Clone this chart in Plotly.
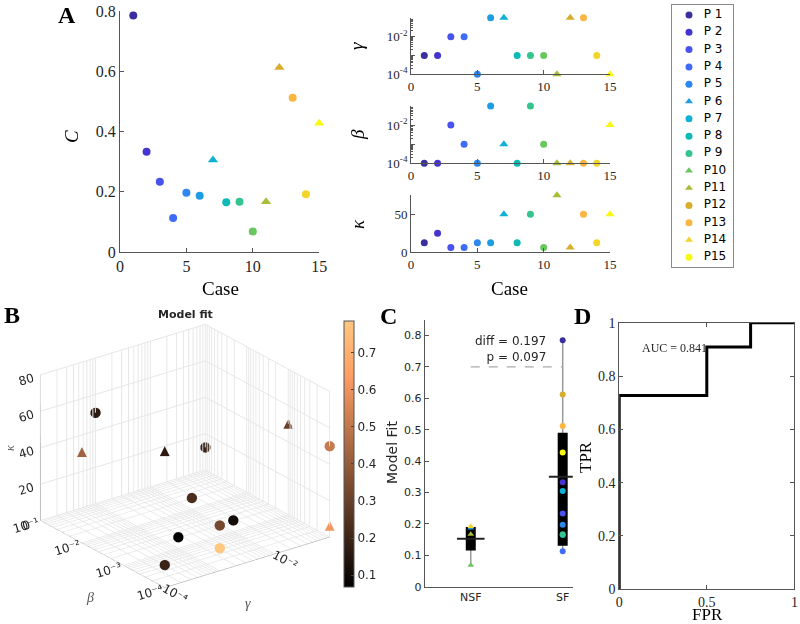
import numpy as np
import plotly.graph_objects as go

# ---------------- data ----------------
cases = list(range(1, 16))
case_names = ['P 1', 'P 2', 'P 3', 'P 4', 'P 5', 'P 6', 'P 7', 'P 8', 'P 9',
              'P10', 'P11', 'P12', 'P13', 'P14', 'P15']
case_colors = ['#3b2f9f', '#4535cf', '#4852ec', '#3f6cf6', '#2d87ef', '#1f9de2',
               '#0fb2d6', '#0dbab6', '#35c38f', '#6ac75f', '#a6be39', '#d7ae2c',
               '#fbb540', '#f2d42a', '#f8f811']
model_fit = [0.785, 0.333, 0.233, 0.113, 0.197, 0.187, 0.305, 0.165, 0.167,
             0.068, 0.167, 0.612, 0.512, 0.192, 0.427]
gamma_vals = [1e-3, 1e-3, 1e-2, 1e-2, 1e-4, 1e-1, 1e-1, 1e-3, 1e-3, 1e-3,
              1e-4, 1e-1, 1e-1, 1e-3, 1e-4]
beta_vals = [1e-4, 1e-4, 1e-2, 1e-3, 1e-4, 1e-1, 1e-3, 1e-4, 1e-1, 1e-3,
             1e-4, 1e-4, 1e-4, 1e-4, 1e-2]
kappa_vals = [12.5, 25, 6.25, 6.25, 12.5, 12.5, 50, 12.5, 50, 6.25,
              75, 6.25, 50, 12.5, 50]
triangle_cases = [7, 11, 12, 15]      # marker shape in panels A and B
nsf_cases = [6, 10, 11, 14]           # legend triangles / NSF group in C

box_groups = ['NSF', 'SF']
box_pos = [1, 2]
box_q1 = [0.115, 0.13]
box_q3 = [0.19, 0.49]
box_median = [0.153, 0.35]
box_wlo = [0.068, 0.113]
box_whi = [0.195, 0.785]
diff_text = 'diff = 0.197<br>p = 0.097'
sig_line_y = 0.70

roc_fpr = [0, 0, 0.5, 0.5, 0.75, 0.75, 1]
roc_tpr = [0, 0.727, 0.727, 0.909, 0.909, 1, 1]
auc_text = 'AUC = 0.841'

SERIF = 'Liberation Serif'
SANS = 'DejaVu Sans'
AX = '#555555'
TXT = '#262626'

fig = go.Figure()

sym_plot = ['triangle-up' if c in triangle_cases else 'circle' for c in cases]
size_plot = [9 if c in triangle_cases else 8 for c in cases]

# ---------------- Panel A left ----------------
fig.add_trace(go.Scatter(x=cases, y=model_fit, mode='markers', xaxis='x', yaxis='y',
                         marker=dict(color=case_colors, symbol=sym_plot, size=size_plot,
                                     opacity=1, line=dict(width=0)),
                         cliponaxis=False, showlegend=False))

# ---------------- Panel A right ----------------
for vals, ax in [(gamma_vals, '2'), (beta_vals, '3'), (kappa_vals, '4')]:
    fig.add_trace(go.Scatter(x=cases, y=vals, mode='markers', xaxis='x' + ax, yaxis='y' + ax,
                             marker=dict(color=case_colors, symbol=sym_plot, opacity=1,
                                         size=[s - 1 for s in size_plot], line=dict(width=0)),
                             cliponaxis=False, showlegend=False))

# ---------------- Legend (manual) ----------------
leg_sym = ['triangle-up' if c in nsf_cases else 'circle' for c in cases]
fig.add_trace(go.Scatter(x=[0.276] * 15, y=list(range(15)), mode='markers', xaxis='x7', yaxis='y7',
                         marker=dict(color=case_colors, symbol=leg_sym, size=7, line=dict(width=0)),
                         showlegend=False))
fig.add_trace(go.Scatter(x=[0.52] * 15, y=list(range(15)), mode='text', text=case_names,
                         textposition='middle right', xaxis='x7', yaxis='y7',
                         textfont=dict(family=SANS, size=12, color='black'), showlegend=False))

# ---------------- Panel B (3D) ----------------
cmin, cmax = min(model_fit), max(model_fit)
copper = [[0, 'rgb(0,0,0)'], [0.8, 'rgb(255,159,101)'], [1, 'rgb(255,199,127)']]


def copper_rgb(v):
    t = (v - cmin) / (cmax - cmin)
    return 'rgb(%d,%d,%d)' % (min(1, 1.25 * t) * 255, 0.7812 * t * 255, 0.4975 * t * 255)


circ_idx = sorted([i for i, c in enumerate(cases) if c not in triangle_cases], key=lambda i: model_fit[i])
tri_idx = [i for i, c in enumerate(cases) if c in triangle_cases]
fig.add_trace(go.Scatter3d(
    x=[gamma_vals[i] for i in circ_idx], y=[beta_vals[i] for i in circ_idx],
    z=[kappa_vals[i] for i in circ_idx], mode='markers',
    marker=dict(size=6, color=[model_fit[i] for i in circ_idx], colorscale=copper,
                cmin=cmin, cmax=cmax, opacity=1, line=dict(width=0),
                colorbar=dict(x=0.43, xanchor='left', y=0.2724, yanchor='middle', len=0.427,
                              lenmode='fraction', thickness=10, xpad=0, ypad=0,
                              outlinecolor=AX, outlinewidth=1,
                              tickvals=[0.1, 0.2, 0.3, 0.4, 0.5, 0.6, 0.7], ticks='inside',
                              ticklen=3, tickfont=dict(family=SANS, size=12, color=TXT))),
    showlegend=False))
fig.add_trace(go.Scatter3d(
    x=[gamma_vals[i] for i in tri_idx], y=[beta_vals[i] for i in tri_idx],
    z=[kappa_vals[i] for i in tri_idx], mode='text', text=['▲'] * len(tri_idx),
    textposition='middle center',
    textfont=dict(family=SANS, size=13, color=[copper_rgb(model_fit[i]) for i in tri_idx]),
    showlegend=False))

# ---------------- Panel C ----------------
for p, lo, hi in zip(box_pos, box_wlo, box_whi):
    fig.add_trace(go.Scatter(x=[p, p], y=[lo, hi], mode='lines', xaxis='x5', yaxis='y5',
                             line=dict(color='#9a9a9a', width=1.5), showlegend=False))
fig.add_trace(go.Scatter(x=[box_pos[0], box_pos[1]], y=[sig_line_y, sig_line_y], mode='lines',
                         xaxis='x5', yaxis='y5', line=dict(color='#aaaaaa', width=1.3, dash='dash'),
                         showlegend=False))
for p, q1, q3 in zip(box_pos, box_q1, box_q3):
    fig.add_trace(go.Scatter(x=[p, p], y=[q1, q3], mode='lines', xaxis='x5', yaxis='y5',
                             line=dict(color='black', width=10), showlegend=False))
for p, m in zip(box_pos, box_median):
    fig.add_trace(go.Scatter(x=[p - 0.15, p + 0.15], y=[m, m], mode='lines', xaxis='x5', yaxis='y5',
                             line=dict(color='#222222', width=2), showlegend=False))
c_x = [box_pos[0] if c in nsf_cases else box_pos[1] for c in cases]
c_sym = ['triangle-up' if c in nsf_cases else 'circle' for c in cases]
order = sorted(range(15), key=lambda i: (c_x[i], i))
fig.add_trace(go.Scatter(x=[c_x[i] for i in order], y=[model_fit[i] for i in order], mode='markers',
                         xaxis='x5', yaxis='y5',
                         marker=dict(color=[case_colors[i] for i in order], symbol=[c_sym[i] for i in order],
                                     size=6, opacity=1, line=dict(width=0)),
                         cliponaxis=False, showlegend=False))

# ---------------- Panel D ----------------
fig.add_trace(go.Scatter(x=roc_fpr, y=roc_tpr, mode='lines', xaxis='x6', yaxis='y6',
                         line=dict(color='black', width=3), cliponaxis=False, showlegend=False))


# ---------------- layout ----------------
def ax2d(domain, anchor, fs, family=SERIF, **kw):
    d = dict(domain=domain, anchor=anchor, showline=True, linecolor=AX, linewidth=1,
             ticks='inside', ticklen=4, tickcolor=AX, showgrid=False, zeroline=False,
             ticklabeloverflow='allow',
             tickfont=dict(family=family, size=fs, color=TXT))
    d.update(kw)
    return d


logticks = [1e-4, 1e-3, 1e-2, 1e-1]
logtext = ['10<sup>-4</sup>', '', '10<sup>-2</sup>', '']
minor_log = dict(ticks='inside', ticklen=2, tickcolor=AX,
                 tickvals=[m * 10.0 ** e for e in (-4, -3, -2) for m in range(2, 10)])

fig.update_layout(
    width=800, height=624, margin=dict(l=0, r=0, t=0, b=0, autoexpand=False),
    paper_bgcolor='white', plot_bgcolor='white', showlegend=False,
    xaxis=ax2d([0.15, 0.399], 'y', 16, range=[0, 15], tickvals=[0, 5, 10, 15]),
    yaxis=ax2d([0.5962, 0.9824], 'x', 16, range=[0, 0.8], tickvals=[0, 0.2, 0.4, 0.6, 0.8],
               ticktext=['0', '0.2', '0.4', '0.6', '0.8']),
    xaxis2=ax2d([0.5138, 0.7625], 'y2', 13, range=[0, 15], tickvals=[0, 5, 10, 15]),
    yaxis2=ax2d([0.8809, 0.9716], 'x2', 13, type='log', range=[-4, -0.995], tickvals=logticks,
                ticktext=logtext, minor=minor_log),
    xaxis3=ax2d([0.5138, 0.7625], 'y3', 13, range=[0, 15], tickvals=[0, 5, 10, 15]),
    yaxis3=ax2d([0.7383, 0.8304], 'x3', 13, type='log', range=[-4, -0.995], tickvals=logticks,
                ticktext=logtext, minor=minor_log),
    xaxis4=ax2d([0.5138, 0.7625], 'y4', 13, range=[0, 15], tickvals=[0, 5, 10, 15]),
    yaxis4=ax2d([0.5957, 0.6875], 'x4', 13, range=[0, 75.2], tickvals=[0, 50]),
    xaxis5=ax2d([0.531, 0.716], 'y5', 11, family=SANS, range=[0.5, 2.11], tickvals=box_pos,
                ticktext=box_groups, ticks=''),
    yaxis5=ax2d([0.0598, 0.4875], 'x5', 11, family=SANS, range=[0, 0.85],
                tickvals=[0, 0.1, 0.2, 0.3, 0.4, 0.5, 0.6, 0.7, 0.8],
                ticktext=['0', '0.1', '0.2', '0.3', '0.4', '0.5', '0.6', '0.7', '0.8']),
    xaxis6=ax2d([0.774, 0.993], 'y6', 14, range=[0, 1], tickvals=[0, 0.5, 1], ticktext=['0', '0.5', '1'],
                mirror='ticks'),
    yaxis6=ax2d([0.0556, 0.4829], 'x6', 14, range=[0, 1], tickvals=[0, 0.2, 0.4, 0.6, 0.8, 1],
                ticktext=['0', '0.2', '0.4', '0.6', '0.8', '1'], mirror='ticks'),
    xaxis7=dict(domain=[0.8404, 0.9159], anchor='y7', range=[0, 1], showline=True, mirror=True,
                linecolor='#8a8a8a', showticklabels=False, ticks='', showgrid=False, zeroline=False),
    yaxis7=dict(domain=[0.5726, 0.992], anchor='x7', range=[14.54, -0.578], showline=True, mirror=True,
                linecolor='#8a8a8a', showticklabels=False, ticks='', showgrid=False, zeroline=False),
)

# log grid (major + minor) for the 3D axes
grid_log = [m * 10.0 ** e for e in (-4, -3, -2) for m in range(1, 10)] + [1e-1]
sup = {-4: '10⁻⁴', -3: '10⁻³', -2: '10⁻²', -1: '10⁻¹'}
gamma_lbl = [-4, -2]
beta_lbl = [-4, -3, -2, -1]


def lbls(shown):
    out = []
    for v in grid_log:
        e = int(round(np.log10(v)))
        out.append(sup[e] if abs(v - 10.0 ** e) < 1e-12 and e in shown else '')
    return out


axis3d = dict(showbackground=False, gridcolor='#e6e6e6', showline=True, linecolor='#999999',
              ticks='', zeroline=False, showspikes=False, title=dict(text=''),
              tickfont=dict(family=SANS, size=12, color=TXT))
fig.update_layout(scene=dict(
    domain=dict(x=[0, 0.4625], y=[0.0377, 0.5024]),
    xaxis=dict(axis3d, type='log', range=[-4, -1], tickvals=grid_log, ticktext=lbls(gamma_lbl)),
    yaxis=dict(axis3d, type='log', range=[-4, -1], tickvals=grid_log, ticktext=lbls(beta_lbl)),
    zaxis=dict(axis3d, range=[0, 80], tickvals=[0, 20, 40, 60, 80]),
    aspectmode='manual', aspectratio=dict(x=1.424, y=1.424, z=1.10),
    camera=dict(eye=dict(x=-1.1, y=-1.46, z=0.814), center=dict(x=0, y=0, z=0),
                projection=dict(type='orthographic')),
    bgcolor='white'))


# ---------------- text annotations ----------------
def ann(text, px, py, size, family=SERIF, angle=0, **kw):
    d = dict(text=text, x=px / 800, y=1 - py / 624, xref='paper', yref='paper', showarrow=False,
             font=dict(family=family, size=size, color=kw.pop('color', 'black')), textangle=angle,
             xanchor=kw.pop('xanchor', 'center'), yanchor=kw.pop('yanchor', 'middle'))
    d.update(kw)
    fig.add_annotation(**d)


ann('<b>A</b>', 67, 15, 24)
ann('<b>B</b>', 12, 315, 24)
ann('<b>C</b>', 388, 316, 24)
ann('<b>D</b>', 582, 316, 24)
ann('<i>C</i>', 71, 137, 19, angle=-90)
ann('Case', 220, 288, 19)
ann('Case', 510, 288, 19)
ann('<i>γ</i>', 357, 46, 19, angle=-90)
ann('<i>β</i>', 357, 135, 19, angle=-90)
ann('<i>κ</i>', 357, 224, 19, angle=-90)
ann('<i>β</i>', 90, 597, 14, color='#555555')
ann('<i>γ</i>', 248, 603, 14, color='#555555')
ann('<i>κ</i>', 10, 448, 12, angle=-90, color='#555555')
ann('<b>Model fit</b>', 185, 314, 11, family=SANS, color=TXT)
ann('Model Fit', 392, 453, 14, family=SANS, angle=-90, color=TXT)
ann('FPR', 707, 614, 17)
ann('TPR', 586, 457, 17, angle=-90)
fig.add_annotation(text=diff_text, x=1.84, y=0.757, xref='x5', yref='y5', showarrow=False,
                   xanchor='right', yanchor='middle', align='right',
                   font=dict(family=SANS, size=12, color=TXT))
fig.add_annotation(text=auc_text, x=0.118, y=0.905, xref='x6', yref='y6', showarrow=False,
                   xanchor='left', yanchor='middle', font=dict(family=SERIF, size=12, color=TXT))

fig.write_html('out.html', config={'displayModeBar': False},
               post_script="document.body.style.margin='0px';document.body.style.overflow='hidden';")
